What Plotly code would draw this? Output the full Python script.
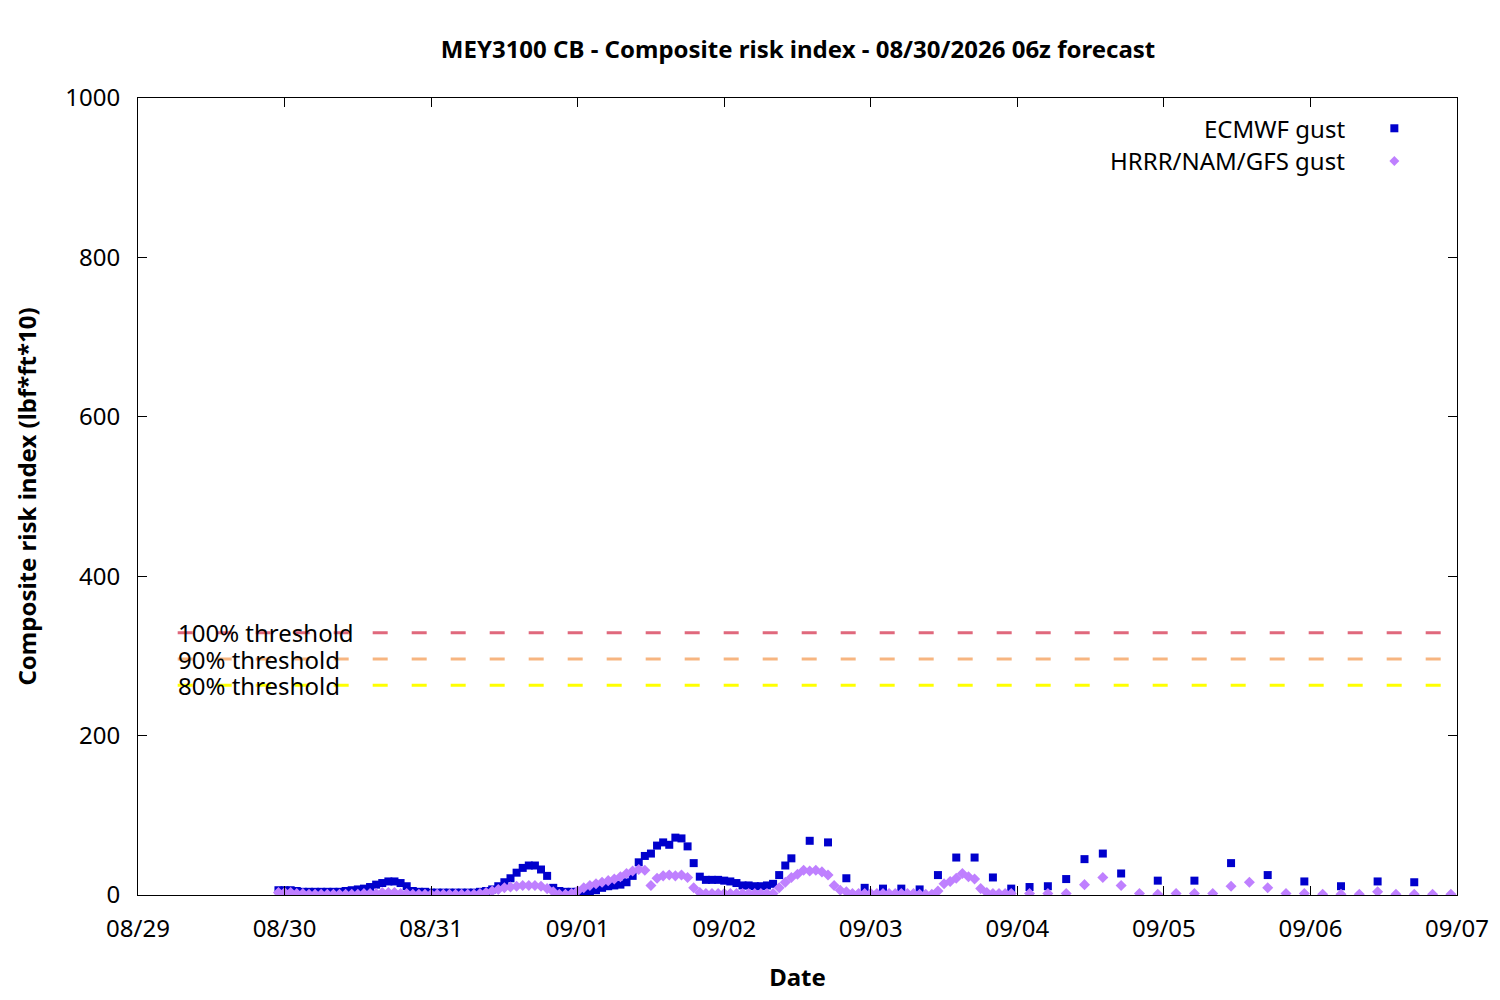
import pandas as pd
import plotly.graph_objects as go

# forecast valid times, hours after 08/29 00:00 (local)
ecmwf_hours = list(range(23, 108)) + list(range(110, 162, 3)) + list(range(167, 210, 6))
multi_hours = list(range(23, 144)) + list(range(146, 216, 3))

ecmwf_gust = [6, 6, 6, 5, 4, 4, 4, 4, 4, 4, 4, 5, 6, 7, 8, 10, 13, 15, 17, 17,
              15, 11, 5, 4, 4, 3, 3, 3, 3, 3, 3, 3, 3, 4, 5, 7, 11, 16, 21, 28,
              34, 37, 37, 32, 24, 9, 5, 4, 4, 4, 5, 5, 6, 9, 11, 12, 13, 16, 24, 41,
              49, 52, 62, 66, 63, 72, 71, 61, 40, 23, 19, 19, 19, 18, 17, 15, 12, 12, 11, 11,
              12, 14, 25, 37, 46,
              68, 66, 21, 9, 8, 8, 7, 25, 47, 47, 22, 8, 10, 11, 20, 45, 52, 27,
              18, 18, 40, 25, 17, 11, 17, 16]

multi_gust = [3, 3, 3, 2, 2, 1, 1, 1, 1, 1, 1, 1, 1, 1, 2, 2, 2, 3, 3, 3,
              2, 2, 1, 1, 1, 1, 1, 1, 1, 1, 1, 1, 1, 2, 3, 5, 7, 9, 10, 11,
              12, 12, 12, 11, 8, 4, 1, 1, 2, 5, 9, 12, 14, 16, 18, 20, 23, 27, 30, 32,
              31, 12, 21, 24, 25, 24, 25, 22, 9, 3, 2, 2, 2, 2, 2, 2, 2, 2, 2, 2,
              2, 2, 9, 16, 22, 26, 31, 30, 31, 29, 25, 12, 6, 4, 2, 2, 2, 2, 2, 2,
              2, 2, 2, 2, 2, 1, 1, 1, 5, 14, 17, 21, 27, 23, 20, 8, 3, 2, 2, 2,
              2,
              2, 2, 2, 13, 22, 12, 2, 1, 2, 2, 2, 11, 16, 9, 2, 2, 1, 1, 1, 4, 1, 1, 1, 1]

threshold = 329
threshold_levels = [1.0, 0.9, 0.8]
threshold_names = ["100% threshold", "90% threshold", "80% threshold"]
threshold_colors = ["#e0687c", "#f7b580", "#ffff00"]

day_ticks = pd.date_range("2026-08-29", "2026-09-07", freq="D")

t0 = pd.Timestamp("2026-08-29 00:00")
ecmwf_time = [t0 + pd.Timedelta(hours=h) for h in ecmwf_hours]
multi_time = [t0 + pd.Timedelta(hours=h) for h in multi_hours]
assert len(ecmwf_time) == len(ecmwf_gust), (len(ecmwf_time), len(ecmwf_gust))
assert len(multi_time) == len(multi_gust), (len(multi_time), len(multi_gust))

font_name = "Noto Sans"
fs = 24

fig = go.Figure()

for lev, name, col in zip(threshold_levels, threshold_names, threshold_colors):
    fig.add_trace(go.Scatter(
        x=[t0 + pd.Timedelta(hours=6.5), day_ticks[-1]],
        y=[threshold * lev, threshold * lev],
        mode="lines",
        line=dict(color=col, width=3, dash="15px,24px"),
        name=name, hoverinfo="skip"))
    fig.add_annotation(x=0.0288, xref="paper", y=threshold * lev, yref="y",
                       text=name, showarrow=False, xanchor="left", yanchor="middle",
                       font=dict(family=font_name, size=fs, color="black"))

fig.add_trace(go.Scatter(x=ecmwf_time, y=ecmwf_gust, mode="markers", name="ECMWF gust",
                         marker=dict(symbol="square", size=8, color="#0000cc", line_width=0)))
fig.add_trace(go.Scatter(x=multi_time, y=multi_gust, mode="markers", name="HRRR/NAM/GFS gust",
                         marker=dict(symbol="diamond", size=8.5, color="#bf80ff", line_width=0)))

# gnuplot style key: text, then symbol on the right
fig.add_annotation(x=0.9165, xref="paper", y=0.962, yref="paper", text="ECMWF gust",
                   showarrow=False, xanchor="right", yanchor="middle",
                   font=dict(family=font_name, size=fs, color="black"))
fig.add_annotation(x=0.9165, xref="paper", y=0.921, yref="paper", text="HRRR/NAM/GFS gust",
                   showarrow=False, xanchor="right", yanchor="middle",
                   font=dict(family=font_name, size=fs, color="black"))
fig.add_shape(type="path", xref="paper", yref="paper", xsizemode="pixel", ysizemode="pixel",
              xanchor=0.9525, yanchor=0.962, path="M -4,-4 L 4,-4 L 4,4 L -4,4 Z",
              fillcolor="#0000cc", line_width=0)
fig.add_shape(type="path", xref="paper", yref="paper", xsizemode="pixel", ysizemode="pixel",
              xanchor=0.9525, yanchor=0.921, path="M 0,-5 L 5,0 L 0,5 L -5,0 Z",
              fillcolor="#bf80ff", line_width=0)

fig.update_layout(
    width=1500, height=1000,
    margin=dict(l=130, r=51, t=90, b=113),
    paper_bgcolor="white", plot_bgcolor="white",
    showlegend=False,
    font=dict(family=font_name, size=fs, color="black"),
    title=dict(text="<b>MEY3100 CB - Composite risk index - 08/30/2026 06z forecast</b>",
               x=0.5267, xanchor="center", y=0.958, yanchor="middle",
               font=dict(family=font_name, size=fs)),
)
fig.update_xaxes(
    type="date", range=[day_ticks[0], day_ticks[-1]],
    tickvals=day_ticks, tickformat="%m/%d",
    ticks="inside", ticklen=9, tickcolor="black",
    showline=True, linecolor="black", linewidth=1, mirror="allticks",
    showgrid=False, zeroline=False, ticklabelstandoff=12,
    title=dict(text="<b>Date</b>", standoff=26, font=dict(size=fs)),
)
fig.update_yaxes(
    range=[0, 1000], dtick=200,
    ticks="inside", ticklen=9, tickcolor="black",
    showline=True, linecolor="black", linewidth=1, mirror="allticks",
    showgrid=False, zeroline=False, ticklabelstandoff=12,
    title=dict(text="<b>Composite risk index (lbf*ft*10)</b>", standoff=21, font=dict(size=fs)),
)

fig.write_html("out.html")
